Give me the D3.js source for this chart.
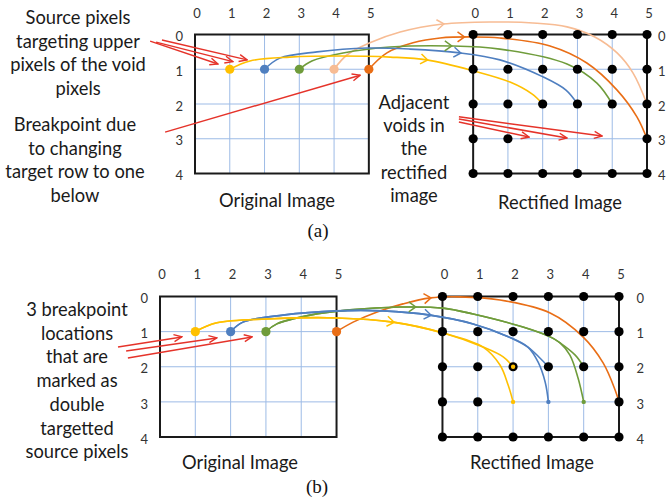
<!DOCTYPE html>
<html><head><meta charset="utf-8">
<script src="https://cdn.jsdelivr.net/npm/d3@7"></script>
<style>html,body{margin:0;padding:0;background:#fff;} svg{display:block;}</style>
</head><body><svg id="c" width="670" height="501"></svg>
<script>
// ---------- data ----------
const COLS = [0, 1, 2, 3, 4, 5];
const ROWS = [0, 1, 2, 3, 4];
const RECT_OFFSET = 8; // rectified grid starts 8 column-units right of the original grid
const COLORS = {yellow: "#FFC000", blue: "#4F7FC0", green: "#6F9C3B", peach: "#F7BC94", orange: "#E96E16"};
const RED = "#E5332A";

// Panel (a): source pixels (series, col, row) in original image
const sourcesA = [["yellow", 1, 1], ["blue", 2, 1], ["green", 3, 1], ["peach", 4, 1], ["orange", 5, 1]];
const voidsA = [[2, 3], [3, 3], [4, 3]];
// mapping paths (diagram units: original cols 0..5, rectified cols 8..13, rows 0..4)
const yellowA = [[1,1],[1.58,0.76],[2.73,0.65],[4.17,0.62],[5.61,0.65],[6.67,0.73],[8.02,1.05],[9.06,1.37],[9.69,1.71],[10,2]];
const blueA   = [[2,1],[2.44,0.68],[3.51,0.5],[4.95,0.39],[6.18,0.42],[7.62,0.53],[8.77,0.73],[10.01,1.22],[10.67,1.6],[11,2]];
const greenA  = [[3,1],[3.36,0.76],[4.26,0.53],[5.61,0.36],[7.36,0.33],[8.77,0.42],[10.7,0.85],[11.56,1.4],[12,2]];
const peachA  = [[4,1],[4.37,0.59],[5.03,0.24],[5.9,-0.07],[7.13,-0.3],[8.48,-0.36],[9.72,-0.33],[10.7,-0.22],[11.5,0.07],[12.14,0.53],[12.6,1.11],[13,2]];
const orangeA = [[5,1],[5.52,0.53],[6.27,0.24],[7.05,0.1],[8.02,0.07],[8.77,0.1],[10.21,0.33],[11.27,0.82],[12.14,1.6],[12.71,2.37],[13,3]];
const arrowAtA = {yellow: 6.67, blue: 7.62, green: 7.36, peach: 7.13, orange: 7.72};
const redArrowsA = [
  [[-1.29,0.19],[0.66,0.85]], [[-1.12,0.22],[1.09,0.78]], [[-0.95,0.16],[1.5,0.73]],
  [[-0.86,2.81],[4.75,1.17]],
  [[7.59,2.37],[11.71,2.92]], [[7.59,2.43],[10.7,2.98]], [[7.59,2.52],[9.61,2.95]]
];

// Panel (b)
const sourcesB = [["yellow", 1, 1], ["blue", 2, 1], ["green", 3, 1], ["orange", 5, 1]];
const doubleTargetsB = [["yellow", 2, 3], ["blue", 3, 3], ["green", 4, 3]];
const voidsB = [[2, 3], [3, 3], [4, 3]];
const yellowB1 = [[1,1],[1.61,0.75],[3.03,0.64],[5.01,0.61],[6.6,0.73],[8.02,1.04],[9.15,1.44],[9.72,1.72],[10,2]];
const yellowB2 = [[1,1],[1.61,0.75],[3.03,0.64],[5.01,0.61],[6.6,0.73],[8.02,1.04],[9.15,1.44],[9.63,1.95],[9.86,2.52],[10,3]];
const blueB1   = [[2,1],[2.35,0.73],[3.48,0.53],[5.01,0.41],[6.32,0.41],[7.65,0.53],[8.87,0.78],[9.83,1.13],[10.42,1.44],[10.76,1.75],[11,2]];
const blueB2   = [[2,1],[2.35,0.73],[3.48,0.53],[5.01,0.41],[6.32,0.41],[7.65,0.53],[8.87,0.78],[9.83,1.13],[10.42,1.44],[10.71,1.87],[10.91,2.44],[11,3]];
const greenB1  = [[3,1],[3.31,0.78],[4.25,0.53],[5.38,0.38],[6.8,0.3],[8.02,0.33],[8.87,0.5],[10.28,0.87],[11.05,1.15],[11.33,1.32],[11.76,1.67],[12,2]];
const greenB2  = [[3,1],[3.31,0.78],[4.25,0.53],[5.38,0.38],[6.8,0.3],[8.02,0.33],[8.87,0.5],[10.28,0.87],[11.05,1.15],[11.33,1.32],[11.61,1.67],[11.84,2.32],[12,3]];
const orangeB  = [[5,1],[5.47,0.73],[6.15,0.44],[6.88,0.21],[7.65,0.04],[8.5,0.01],[9.63,0.1],[11.05,0.47],[11.98,1.15],[12.55,1.89],[12.89,2.66],[13,3]];
const arrowAtB = {yellow: 6.6, blue: 7.65, green: 7.22, orange: 7.65};
const redArrowsB = [[[-1.19,1.44],[0.62,1.15]], [[-0.96,1.55],[1.61,1.18]], [[-0.91,1.75],[2.61,1.15]]];

// Text
const noteSource = ["Source pixels", "targeting upper", "pixels of the void", "pixels"];
const noteBreak = ["Breakpoint due", "to changing", "target row to one", "below"];
const noteAdjacent = ["Adjacent", "voids in", "the", "rectified", "image"];
const noteDouble = ["3 breakpoint", "locations", "that are", "marked as", "double", "targetted", "source pixels"];

// ---------- drawing ----------
const svg = d3.select("#c");
const FONT = "Lato, 'Noto Sans', sans-serif";

// fit font size so that "Original Image" is ~117px wide (Calibri 19px equivalent)
const probe = svg.append("text").attr("font-family", FONT).attr("font-size", 19).text("Original Image");
const bigSize = 19 * 116 / probe.node().getComputedTextLength();
probe.remove();

const defs = svg.append("defs");
defs.append("marker").attr("id", "redhead").attr("markerUnits", "userSpaceOnUse")
  .attr("viewBox", "-9 -5 10 10").attr("refX", 0).attr("refY", 0)
  .attr("markerWidth", 10).attr("markerHeight", 10).attr("orient", "auto")
  .append("path").attr("d", "M-8,-3.5 L0,0 L-8,3.5").attr("fill", "none")
  .attr("stroke", RED).attr("stroke-width", 1.4);

function drawPanel(cfg) {
  const g = svg.append("g");
  const x = d3.scaleLinear().domain([0, 13]).range(cfg.xr);
  const y = d3.scaleLinear().domain([0, 4]).range(cfg.yr);

  [0, RECT_OFFSET].forEach((off, k) => {
    const gg = g.append("g");
    gg.selectAll(".vl").data(COLS.slice(1, -1)).join("line")
      .attr("x1", d => x(d + off)).attr("x2", d => x(d + off)).attr("y1", y(0)).attr("y2", y(4))
      .attr("stroke", "#9DBBE6").attr("stroke-width", 1);
    gg.selectAll(".hl").data(ROWS.slice(1, -1)).join("line")
      .attr("y1", d => y(d)).attr("y2", d => y(d)).attr("x1", x(off)).attr("x2", x(off + 5))
      .attr("stroke", "#9DBBE6").attr("stroke-width", 1);
    gg.append("rect").attr("x", x(off)).attr("y", y(0)).attr("width", x(off + 5) - x(off))
      .attr("height", y(4) - y(0)).attr("fill", "none").attr("stroke", "#1a1a1a").attr("stroke-width", 2);
    const xs = d3.scaleLinear().domain([0, 5]).range([x(off), x(off + 5)]);
    const ys = d3.scaleLinear().domain([0, 4]).range([y(0), y(4)]);
    const fmt = d3.format("d");
    const ax = gg.append("g").attr("transform", `translate(1.5,${y(0) - cfg.colLabelOff})`)
      .call(d3.axisTop(xs).tickValues(COLS).tickFormat(fmt).tickSize(0).tickPadding(0));
    const ay = k === 0
      ? gg.append("g").attr("transform", `translate(${x(0) - cfg.rowLabelOffL},2)`).call(d3.axisLeft(ys).tickValues(ROWS).tickFormat(fmt).tickSize(0).tickPadding(0))
      : gg.append("g").attr("transform", `translate(${x(13) + cfg.rowLabelOffR},2)`).call(d3.axisRight(ys).tickValues(ROWS).tickFormat(fmt).tickSize(0).tickPadding(0));
    [ax, ay].forEach(a => {
      a.select(".domain").remove();
      a.selectAll("text").attr("font-family", FONT).attr("font-size", 13).attr("fill", "#333");
    });
  });

  const pts = [];
  COLS.forEach(c => ROWS.forEach(r => {
    if (!cfg.voids.some(v => v[0] === c && v[1] === r)) pts.push([c, r]);
  }));

  const line = d3.line().x(d => x(d[0])).y(d => y(d[1])).curve(d3.curveCatmullRom.alpha(0.5));
  const cg = g.append("g");
  cfg.curves.forEach(([name, data]) => {
    cg.append("path").attr("d", line(data)).attr("fill", "none")
      .attr("stroke", COLORS[name]).attr("stroke-width", 1.6);
  });
  cfg.chevrons.forEach(([name, data, ux]) => {
    const p = cg.append("path").attr("d", line(data)).attr("fill", "none").attr("stroke", "none");
    const node = p.node(), L = node.getTotalLength(), tx = x(ux);
    let best = 0, bd = 1e9;
    for (let s = 0; s <= L; s += 0.5) {
      const q = node.getPointAtLength(s);
      if (Math.abs(q.x - tx) < bd) { bd = Math.abs(q.x - tx); best = s; }
    }
    const a = node.getPointAtLength(best), b = node.getPointAtLength(Math.min(L, best + 1));
    const ang = Math.atan2(b.y - a.y, b.x - a.x) * 180 / Math.PI;
    cg.append("path").attr("d", "M-6,-5 L1,0 L-6,5").attr("fill", "none")
      .attr("stroke", COLORS[name]).attr("stroke-width", 1.5)
      .attr("transform", `translate(${a.x},${a.y}) rotate(${ang})`);
    p.remove();
  });

  g.append("g").selectAll("circle").data(pts).join("circle")
    .attr("cx", d => x(d[0] + RECT_OFFSET)).attr("cy", d => y(d[1])).attr("r", 4.6).attr("fill", "#000");
  (cfg.small || []).forEach(([name, c, r]) => {
    g.append("circle").attr("cx", x(c + RECT_OFFSET)).attr("cy", y(r)).attr("r", 2.2).attr("fill", COLORS[name]);
  });
  if (cfg.centerMark) {
    const [name, c, r] = cfg.centerMark;
    g.append("circle").attr("cx", x(c + RECT_OFFSET)).attr("cy", y(r)).attr("r", 2.2).attr("fill", COLORS[name]);
  }
  g.append("g").selectAll("circle").data(cfg.sources).join("circle")
    .attr("cx", d => x(d[1])).attr("cy", d => y(d[2])).attr("r", 4.6).attr("fill", d => COLORS[d[0]]);

  g.append("g").selectAll("line").data(cfg.red).join("line")
    .attr("x1", d => x(d[0][0])).attr("y1", d => y(d[0][1]))
    .attr("x2", d => x(d[1][0])).attr("y2", d => y(d[1][1]))
    .attr("stroke", RED).attr("stroke-width", 1.5).attr("marker-end", "url(#redhead)");
}

drawPanel({
  xr: [195, 647], yr: [34.5, 173.5], colLabelOff: 17, rowLabelOffL: 12, rowLabelOffR: 11,
  voids: voidsA, sources: sourcesA, red: redArrowsA,
  curves: [["peach", peachA], ["orange", orangeA], ["green", greenA], ["blue", blueA], ["yellow", yellowA]],
  chevrons: [["peach", peachA, arrowAtA.peach], ["orange", orangeA, arrowAtA.orange], ["green", greenA, arrowAtA.green],
             ["blue", blueA, arrowAtA.blue], ["yellow", yellowA, arrowAtA.yellow]]
});
drawPanel({
  xr: [160, 619], yr: [296.5, 437], colLabelOff: 18, rowLabelOffL: 12, rowLabelOffR: 17.5,
  voids: voidsB, sources: sourcesB, red: redArrowsB, small: doubleTargetsB, centerMark: ["yellow", 2, 2],
  curves: [["orange", orangeB], ["green", greenB1], ["green", greenB2], ["blue", blueB1], ["blue", blueB2], ["yellow", yellowB1], ["yellow", yellowB2]],
  chevrons: [["orange", orangeB, arrowAtB.orange], ["green", greenB1, arrowAtB.green], ["blue", blueB1, arrowAtB.blue], ["yellow", yellowB1, arrowAtB.yellow]]
});

function block(lines, cx, y0, dy) {
  const t = svg.append("text").attr("font-family", FONT).attr("font-size", bigSize)
    .attr("fill", "#1a1a1a").attr("text-anchor", "middle");
  lines.forEach((s, i) => t.append("tspan").attr("x", cx).attr("y", y0 + i * dy).text(s));
}
block(noteSource, 78, 24, 23.5);
block(noteBreak, 75, 131, 23.5);
block(noteAdjacent, 414, 109, 23.2);
block(noteDouble, 77, 316, 23.7);
block(["Original Image"], 277, 207, 0);
block(["Rectified Image"], 560, 209, 0);
block(["Original Image"], 240, 469, 0);
block(["Rectified Image"], 532, 469, 0);

svg.append("text").attr("x", 318).attr("y", 237).attr("text-anchor", "middle")
  .attr("font-family", "'Liberation Serif', serif").attr("font-size", 19).attr("fill", "#111").text("(a)");
svg.append("text").attr("x", 317).attr("y", 493).attr("text-anchor", "middle")
  .attr("font-family", "'Liberation Serif', serif").attr("font-size", 19).attr("fill", "#111").text("(b)");
</script>
</body></html>
